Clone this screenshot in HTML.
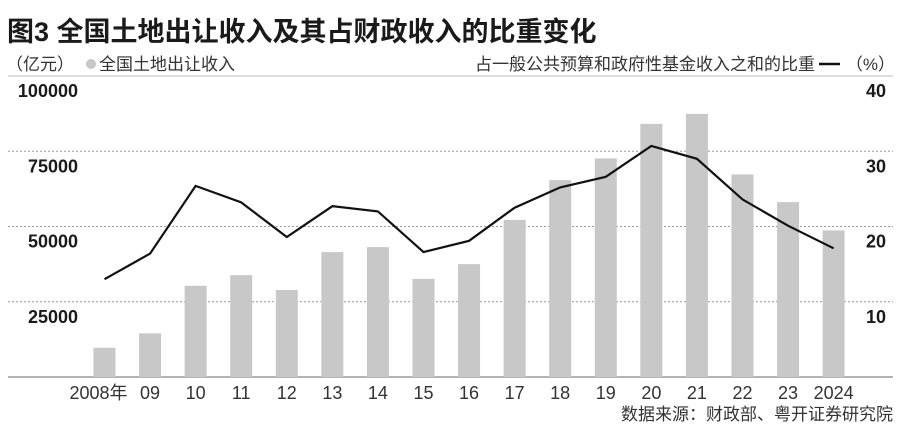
<!DOCTYPE html>
<html><head><meta charset="utf-8">
<style>
html,body{margin:0;padding:0;background:#fff;}
body{width:900px;height:432px;overflow:hidden;font-family:"Liberation Sans","Noto Sans CJK SC",sans-serif;}
</style></head>
<body>
<svg id="chart" width="900" height="432" xmlns="http://www.w3.org/2000/svg">
  <text x="7" y="41" font-size="27" font-weight="bold" fill="#1a1a1a" font-family="Liberation Sans, Noto Sans CJK SC, sans-serif">图3 全国土地出让收入及其占财政收入的比重变化</text>
  <text x="6" y="70" font-size="17" fill="#333" font-family="Liberation Sans, Noto Sans CJK SC, sans-serif">（亿元）</text>
  <circle cx="91" cy="64" r="5" fill="#c8c8c8"/>
  <text x="99" y="70" font-size="17" fill="#333" font-family="Liberation Sans, Noto Sans CJK SC, sans-serif">全国土地出让收入</text>
  <text x="815" y="70" font-size="17" fill="#333" text-anchor="end" font-family="Liberation Sans, Noto Sans CJK SC, sans-serif">占一般公共预算和政府性基金收入之和的比重</text>
  <line x1="819" y1="64" x2="840" y2="64" stroke="#111" stroke-width="2.5"/>
  <text x="895" y="70" font-size="17" fill="#333" text-anchor="end" font-family="Liberation Sans, Noto Sans CJK SC, sans-serif">（%）</text>
  <line x1="8" y1="76" x2="893" y2="76" stroke="#bbb" stroke-width="1"/>
  <g id="grid"></g>
  <g id="bars"></g>
  <g id="line"></g>
  <g id="labels"></g>
  <text x="893" y="420" font-size="17" fill="#333" text-anchor="end" font-family="Liberation Sans, Noto Sans CJK SC, sans-serif">数据来源：财政部、粤开证券研究院</text>
</svg>
<script>
const categories = ["2008年","09","10","11","12","13","14","15","16","17","18","19","20","21","22","23","2024"];
const landRevenue = [9700,14500,30300,33850,28900,41500,43150,32600,37500,52200,65400,72600,84100,87400,67300,58100,48700];
const shareRatio = [13.0,16.4,25.4,23.2,18.6,22.7,22.0,16.6,18.1,22.5,25.2,26.6,30.7,29.0,23.6,20.1,17.1];
const leftTicks = [25000,50000,75000,100000];
const leftTickLabels = ["25000","50000","75000","100000"];
const rightTicks = [10,20,30,40];
const rightTickLabels = ["10","20","30","40"];

const NS = "http://www.w3.org/2000/svg";
const baseY = 377, topY = 76;
const yL = v => baseY - v / 100000 * (baseY - topY);
const yR = v => baseY - v / 40 * (baseY - topY);
const xC = i => 104.5 + i * 45.57;
function mk(tag, attrs, parent){
  const el = document.createElementNS(NS, tag);
  for (const k in attrs) el.setAttribute(k, attrs[k]);
  parent.appendChild(el);
  return el;
}
const grid = document.getElementById('grid');
const bars = document.getElementById('bars');
const lineG = document.getElementById('line');
const labels = document.getElementById('labels');
const F = "Liberation Sans, Noto Sans CJK SC, sans-serif";

leftTicks.forEach((t, i) => {
  const y = yL(t);
  if (t < 100000) {
    const g = mk('line', {x1: 8, x2: 893, y1: y, y2: y, stroke: '#999', 'stroke-width': 1, 'stroke-dasharray': '2,2'}, grid);
    
    
  }
  const tx = mk('text', {x: 78, y: y + 21, 'font-size': 18, 'font-weight': 'bold', fill: '#1a1a1a', 'text-anchor': 'end', 'font-family': F}, labels);
  tx.textContent = leftTickLabels[i];
  
  
});
rightTicks.forEach((t, i) => {
  const y = yR(t);
  const tx = mk('text', {x: 886, y: y + 21, 'font-size': 18, 'font-weight': 'bold', fill: '#1a1a1a', 'text-anchor': 'end', 'font-family': F}, labels);
  tx.textContent = rightTickLabels[i];
  
  
});

landRevenue.forEach((v, i) => {
  const y = yL(v);
  const r = mk('rect', {x: xC(i) - 11, y: y, width: 22, height: baseY - y, fill: '#c8c8c8'}, bars);
  
  
});

const base = mk('line', {x1: 8, x2: 893, y1: baseY, y2: baseY, stroke: '#888', 'stroke-width': 1.2}, grid);



const pts = shareRatio.map((v, i) => xC(i).toFixed(1) + ',' + yR(v).toFixed(1)).join(' ');
const pl = mk('polyline', {points: pts, fill: 'none', stroke: '#111', 'stroke-width': 2.2, 'stroke-linejoin': 'miter'}, lineG);



categories.forEach((c, i) => {
  const tx = mk('text', {x: xC(i) + (i === 0 ? -6 : 0), y: 399, 'font-size': 18, fill: '#333', 'text-anchor': 'middle', 'font-family': F}, labels);
  tx.textContent = c;
  
  
});
</script>
</body></html>
